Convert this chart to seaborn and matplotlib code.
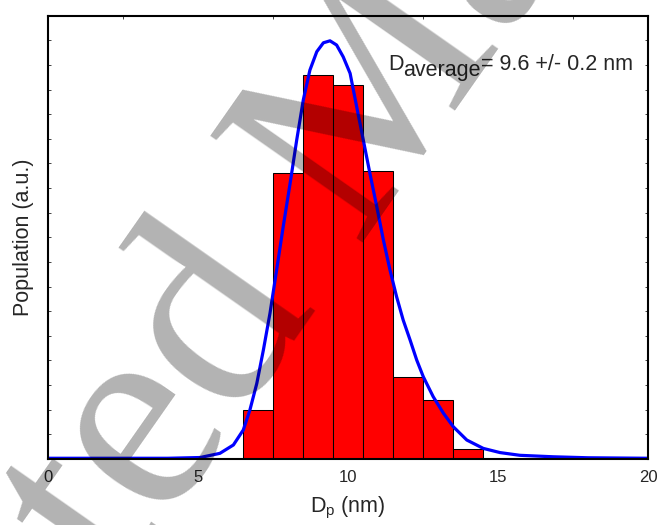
import numpy as np
import pandas as pd
import seaborn as sns
import matplotlib.pyplot as plt
from matplotlib.ticker import MultipleLocator

# histogram of particle sizes (bin centre in nm, population in a.u.)
bin_centers = [7, 8, 9, 10, 11, 12, 13, 14]
population = [1.99, 11.61, 15.61, 15.20, 11.70, 3.32, 2.40, 0.41]

# fitted distribution, points
fit_d = [0.0, 2.0, 4.0, 5.07, 5.73, 6.18, 6.51, 6.73, 6.96, 7.18, 7.40, 7.62,
         7.84, 8.07, 8.29, 8.51, 8.73, 8.96, 9.18, 9.40, 9.62, 9.84, 10.07,
         10.29, 10.51, 10.73, 10.96, 11.18, 11.40, 11.62, 11.84, 12.07, 12.29,
         12.51, 12.84, 13.18, 13.51, 13.96, 14.51, 15.07, 15.73, 16.84, 18.0, 20.0]
fit_pop = [0.03, 0.03, 0.03, 0.06, 0.23, 0.57, 1.18, 1.99, 3.07, 4.43, 5.92, 7.67,
           9.43, 11.19, 12.95, 14.58, 15.79, 16.54, 16.90, 16.98, 16.81, 16.33, 15.66,
           14.30, 12.95, 11.60, 10.24, 8.89, 7.67, 6.59, 5.64, 4.83, 4.02,
           3.34, 2.53, 1.86, 1.31, 0.77, 0.43, 0.26, 0.15, 0.09, 0.05, 0.03]

sns.set_style("white")
plt.rcParams["font.family"] = ["Liberation Sans", "DejaVu Sans"]
plt.rcParams["mathtext.fontset"] = "custom"
plt.rcParams["mathtext.rm"] = "Liberation Sans"

fig = plt.figure(figsize=(6.57, 5.25), dpi=100)
ax = fig.add_axes([48 / 657, 66 / 525, 600 / 657, 443.3 / 525])

hist = pd.DataFrame({"d": bin_centers, "pop": population})
sns.histplot(data=hist, x="d", weights="pop", discrete=True, color="#ff0000",
             edgecolor="black", linewidth=0.75, alpha=1, ax=ax)

fit = pd.DataFrame({"d": fit_d, "pop": fit_pop})
sns.lineplot(data=fit, x="d", y="pop", color="#0000ff", linewidth=2.3, ax=ax)

ax.set_xlim(0, 20)
ax.set_ylim(0, 18)
ax.xaxis.set_major_locator(MultipleLocator(5))
ax.xaxis.set_minor_locator(MultipleLocator(2.5))
ax.yaxis.set_major_locator(MultipleLocator(1))
ax.tick_params(axis="x", which="major", direction="in", length=6, width=0.8,
               labelsize=12, pad=8, top=False)
ax.tick_params(axis="x", which="minor", direction="in", length=2, width=0.6,
               bottom=False, top=True)
ax.tick_params(axis="y", which="major", direction="in", length=2, width=0.6,
               left=True, right=True, labelleft=False)
for s in ax.spines.values():
    s.set_visible(True)
    s.set_linewidth(1.5)
    s.set_color("black")

ax.set_xlabel(r"D$_\mathregular{p}$ (nm)", fontsize=15.5, labelpad=7)
ax.set_ylabel("Population (a.u.)", fontsize=15.5, labelpad=10)

# D_average label, subscript at full size, just lowered
t1 = ax.text(11.33, 15.79, "D", fontsize=15.5, va="baseline")
t2 = ax.annotate("average", xy=(1, 0), xycoords=t1, xytext=(0, -4.5),
                 textcoords="offset points", fontsize=15.5, va="bottom")
ax.annotate("= 9.6 +/- 0.2 nm", xy=(1, 0), xycoords=t2, xytext=(0, 4.5),
            textcoords="offset points", fontsize=15.5, va="bottom")

# journal watermark
fig.text(0.527, 0.718, "Accepted Manuscript", rotation=55, rotation_mode="anchor",
         ha="center", va="center", fontsize=205, family="Liberation Serif",
         color="black", alpha=0.3, zorder=10)

fig.savefig("out.png", dpi=100)
